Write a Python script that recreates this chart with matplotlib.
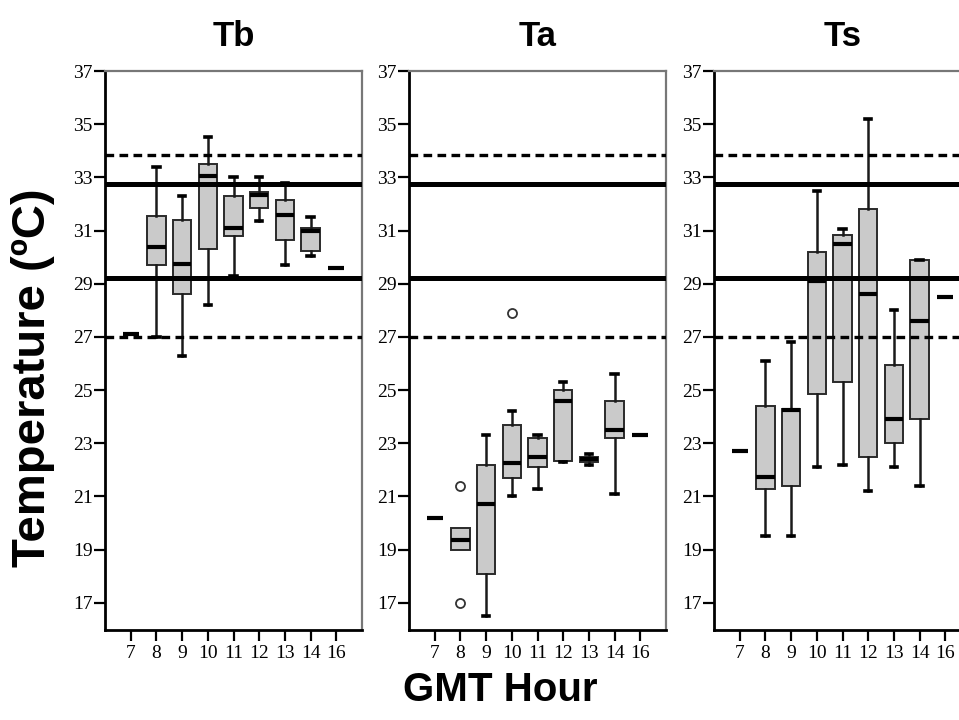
import matplotlib
matplotlib.use("Agg")
import matplotlib.pyplot as plt

# GMT hour categories
hours = ['7', '8', '9', '10', '11', '12', '13', '14', '16']

# Tb (body temperature)
tb_whislo = [27.1, 27.0, 26.3, 28.2, 29.3, 31.35, 29.7, 30.05, 29.6]
tb_q1 = [27.1, 29.7, 28.6, 30.3, 30.8, 31.85, 30.65, 30.25, 29.6]
tb_med = [27.1, 30.4, 29.75, 33.05, 31.1, 32.35, 31.6, 31.0, 29.6]
tb_q3 = [27.1, 31.55, 31.4, 33.5, 32.3, 32.45, 32.15, 31.1, 29.6]
tb_whishi = [27.1, 33.4, 32.3, 34.5, 33.0, 33.0, 32.8, 31.5, 29.6]
tb_fliers = [[], [], [], [], [], [], [], [], []]

# Ta (air temperature)
ta_whislo = [20.2, 19.0, 16.5, 21.0, 21.3, 22.3, 22.2, 21.1, 23.3]
ta_q1 = [20.2, 19.0, 18.1, 21.7, 22.1, 22.35, 22.3, 23.2, 23.3]
ta_med = [20.2, 19.35, 20.7, 22.25, 22.5, 24.6, 22.42, 23.5, 23.3]
ta_q3 = [20.2, 19.8, 22.2, 23.7, 23.2, 25.0, 22.5, 24.6, 23.3]
ta_whishi = [20.2, 19.8, 23.3, 24.2, 23.3, 25.3, 22.6, 25.6, 23.3]
ta_fliers = [[], [21.4, 17.0], [], [27.9], [], [], [], [], []]

# Ts (substrate temperature)
ts_whislo = [22.7, 19.5, 19.5, 22.1, 22.2, 21.2, 22.1, 21.4, 28.5]
ts_q1 = [22.7, 21.3, 21.4, 24.85, 25.3, 22.5, 23.0, 23.9, 28.5]
ts_med = [22.7, 21.75, 24.25, 29.1, 30.5, 28.6, 23.9, 27.6, 28.5]
ts_q3 = [22.7, 24.4, 24.3, 30.2, 30.85, 31.8, 25.95, 29.9, 28.5]
ts_whishi = [22.7, 26.1, 26.8, 32.5, 31.05, 35.2, 28.0, 29.9, 28.5]
ts_fliers = [[], [], [], [], [], [], [], [], []]

# reference lines
dashed_levels = [33.85, 27.0]
solid_levels = [32.75, 29.2]

panels = [
    ('Tb', tb_whislo, tb_q1, tb_med, tb_q3, tb_whishi, tb_fliers),
    ('Ta', ta_whislo, ta_q1, ta_med, ta_q3, ta_whishi, ta_fliers),
    ('Ts', ts_whislo, ts_q1, ts_med, ts_q3, ts_whishi, ts_fliers),
]

fig = plt.figure(figsize=(9.59, 7.2), dpi=100)
lefts = [105, 409, 714]
W, H = 959, 720
title_font = ['Liberation Sans Narrow', 'Liberation Sans', 'DejaVu Sans']

for left, (name, lo, q1, med, q3, hi, fl) in zip(lefts, panels):
    ax = fig.add_axes([left / W, 90 / H, 257 / W, 559 / H])
    stats = []
    for i in range(len(hours)):
        stats.append(dict(whislo=lo[i], q1=q1[i], med=med[i], q3=q3[i],
                          whishi=hi[i], fliers=fl[i], label=hours[i]))
    pos = list(range(1, len(hours) + 1))
    widths = [0.62 if q1[i] == q3[i] else 0.72 for i in range(len(hours))]
    parts = ax.bxp(stats, positions=pos, widths=widths, patch_artist=True,
                   capwidths=0.25,
                   boxprops=dict(facecolor='#cacaca', edgecolor='#2a2a2a', linewidth=1.4),
                   medianprops=dict(color='black', linewidth=3),
                   whiskerprops=dict(color='#1a1a1a', linewidth=1.8),
                   capprops=dict(color='black', linewidth=2.6),
                   flierprops=dict(marker='o', markerfacecolor='white',
                                   markeredgecolor='#333333', markersize=6.5,
                                   markeredgewidth=1.3))
    # no caps where the whisker has zero length
    for i in range(len(hours)):
        if lo[i] == q1[i] and q1[i] != q3[i]:
            parts['caps'][2 * i].set_visible(False)
        if hi[i] == q3[i] and q1[i] != q3[i] and i != 7:
            parts['caps'][2 * i + 1].set_visible(False)

    for y in dashed_levels:
        ax.axhline(y, color='black', linewidth=2.4, linestyle=(0, (2.6, 1.6)), zorder=5)
    for y in solid_levels:
        ax.axhline(y, color='black', linewidth=3.6, zorder=5)

    ax.set_xlim(0, 10)
    ax.set_ylim(15.98, 37)
    ax.set_yticks(range(17, 38, 2))
    ax.set_xticks(pos)
    ax.set_xticklabels(hours)
    for lab in ax.get_xticklabels() + ax.get_yticklabels():
        lab.set_family(['Liberation Serif', 'DejaVu Serif'])
        lab.set_fontsize(14)
    ax.tick_params(axis='both', direction='out', length=8, width=1.6, color='black')
    ax.tick_params(axis='x', pad=3)
    ax.tick_params(axis='y', pad=1)
    for s in ['left', 'bottom']:
        ax.spines[s].set_linewidth(2.0)
        ax.spines[s].set_color('black')
    for s in ['top', 'right']:
        ax.spines[s].set_linewidth(1.6)
        ax.spines[s].set_color('#777777')
    ax.set_title(name, fontsize=25, fontweight='bold', family=title_font, pad=18)

fig.text(500 / W, 1 - 690 / H, 'GMT Hour', ha='center', va='center',
         fontsize=29, fontweight='bold', family=title_font)
fig.text(33 / W, 1 - 378 / H, 'Temperature (ºC)', ha='center', va='center',
         rotation=90, fontsize=34, fontweight='bold', family=['Liberation Sans', 'DejaVu Sans'])

fig.savefig('out.png', dpi=100)
